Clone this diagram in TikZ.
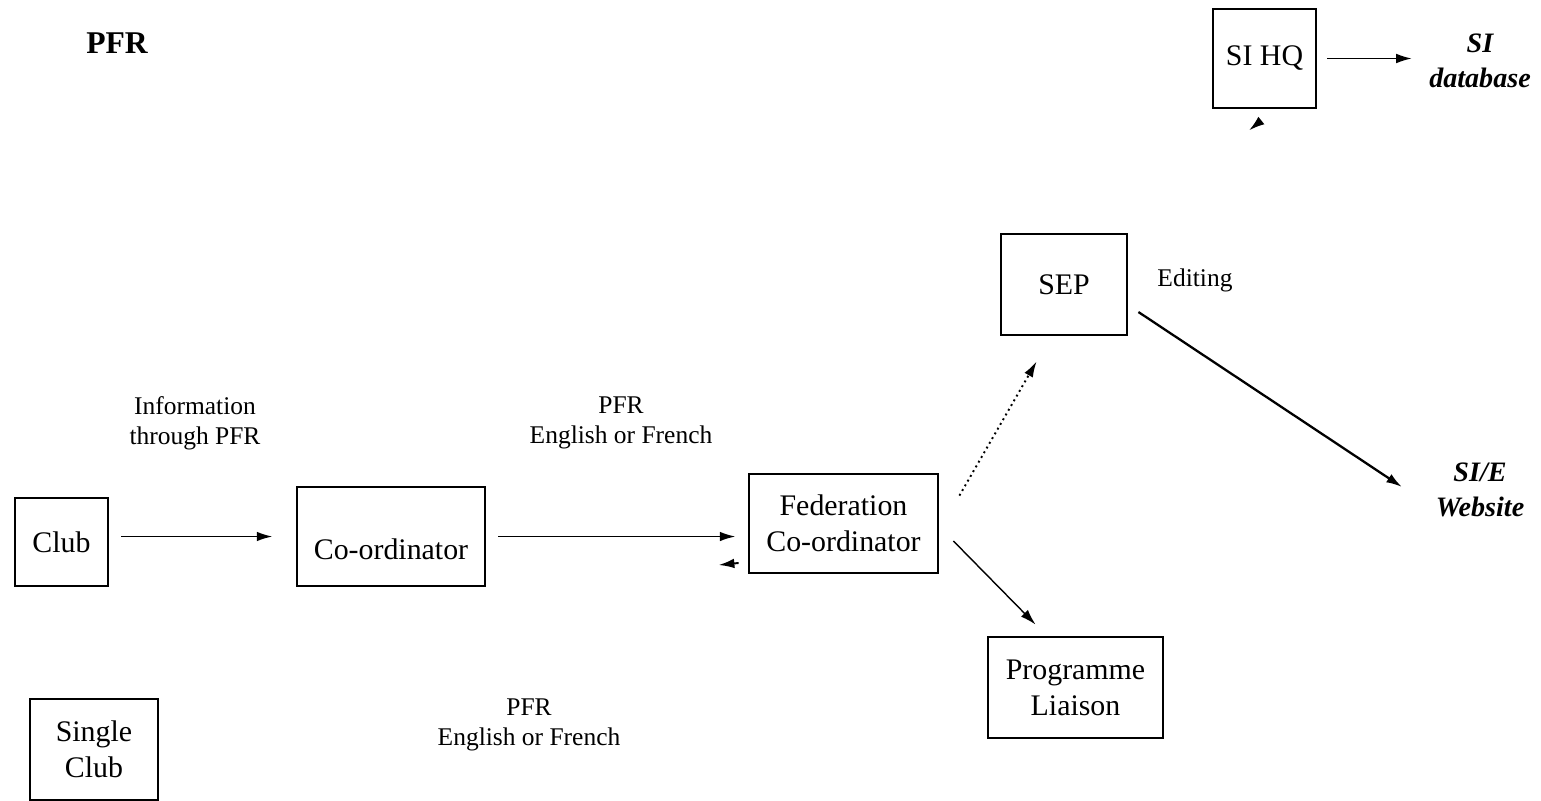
\documentclass[tikz,border=0pt]{standalone}
\usepackage{fontspec}
\setmainfont{Liberation Serif}
\usetikzlibrary{arrows.meta}

\begin{document}
\begin{tikzpicture}[box/.style={shape=rectangle, draw, line width=1.6pt, align=center, inner sep=0pt, font=\fontsize{17}{20.5}\selectfont},
  lab/.style={align=center, font=\fontsize{14.5}{17}\selectfont},
  goal/.style={align=center, font=\fontsize{16}{20}\selectfont\bfseries\itshape},
  tip/.style={-{Latex[length=9pt,width=5.5pt]}}]
\useasboundingbox (0,0) rectangle (30.82,-16.02);
\node[box, minimum width=1.86cm, minimum height=1.76cm] (club) at (1.23,-10.84) {Club};
\node[box, minimum width=3.76cm, minimum height=1.98cm] (coord) at (7.82,-10.73) {\raisebox{-0.45cm}[0pt][0pt]{Co-ordinator}};
\node[box, minimum width=3.78cm, minimum height=1.98cm] (fed) at (16.87,-10.47) {Federation\\Co-ordinator};
\node[box, minimum width=2.52cm, minimum height=2.02cm] (sep) at (21.28,-5.69) {SEP};
\node[box, minimum width=3.5cm, minimum height=2.02cm] (prog) at (21.51,-13.75) {Programme\\Liaison};
\node[box, minimum width=2.56cm, minimum height=2.02cm] (single) at (1.88,-14.99) {Single\\Club};
\node[box, minimum width=2.06cm, minimum height=1.98cm] (hq) at (25.29,-1.17) {SI HQ};
\node[font=\fontsize{18}{20}\selectfont\bfseries] (title) at (2.34,-0.86) {PFR};
\node[goal] (sidb) at (29.6,-1.22) {SI\\database};
\node[goal] (site) at (29.6,-9.8) {SI/E\\Website};
\node[lab] (info) at (3.9,-8.46) {Information\\through PFR};
\node[lab] (lang) at (12.42,-8.46) {PFR\\English or French};
\node[lab] (lang2) at (10.58,-14.5) {PFR\\English or French};
\node[lab] (edit) at (23.9,-5.6) {Editing};
\coordinate (fedstub) at ([shift={(-0.18,-0.79)}]fed.west);
\coordinate (hqstub) at ([shift={(-0.11,-0.26)}]hq.south);
\path[line width=1.1pt, tip]
(club.east |- coord.west) edge[shorten <=0.24cm, shorten >=0.46cm] (coord.west)
(coord.east) edge[shorten <=0.24cm, shorten >=0.24cm] (coord.east -| fed.west)
([shift={(0.4,-0.46)}]fed.north east) edge[dotted] ([shift={(0.74,-0.5)}]sep.south west)
([shift={(0.28,-0.35)}]fed.east) edge[line width=0.8pt] ([shift={(0.98,0.22)}]prog.north west)
([shift={(0.2,-0.55)}]sep.east) edge[line width=1.3pt] ([shift={(-1.56,0.06)}]site.center)
(hq.east) edge[shorten <=0.2cm, shorten >=0.22cm] (hq.east -| sidb.west)
(fedstub) edge ([shift={(-0.4,-0.04)}]fedstub)
(hqstub) edge ([shift={(-0.2,-0.16)}]hqstub);
\end{tikzpicture}
\end{document}
